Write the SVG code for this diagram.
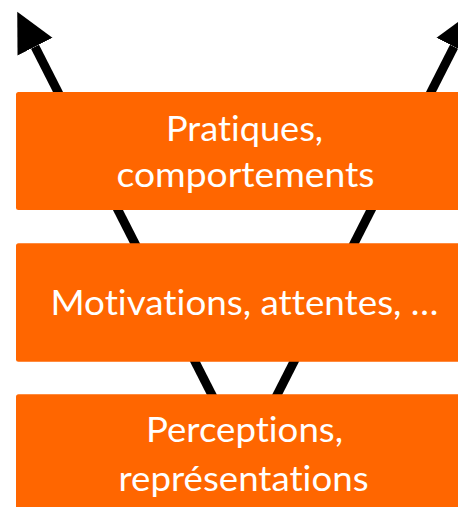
<svg xmlns="http://www.w3.org/2000/svg" width="458" height="507" viewBox="0 0 458 507">
  <style>
    .box { fill: #FF6600; }
    .lbl { fill: #FFFFFF; font-family: Lato, "Open Sans", "Liberation Sans", sans-serif; font-size: 35px; text-anchor: middle; font-variant-ligatures: none; font-feature-settings: "liga" 0, "clig" 0, "dlig" 0; }
    .conn { stroke: #000000; stroke-width: 9; fill: none; }
  </style>
  <defs>
    <marker id="arrow" markerUnits="userSpaceOnUse" viewBox="0 -20 40 40" refX="0" refY="0" markerWidth="40" markerHeight="40" orient="auto">
      <path d="M0,-19.6 L39.2,0 L0,19.6 Z" fill="#000000"/>
    </marker>
  </defs>
  <g id="connectors">
    <line class="conn" x1="244.5" y1="459" x2="35" y2="46.7" marker-end="url(#arrow)"/>
    <line class="conn" x1="244.5" y1="459" x2="454" y2="46.7" marker-end="url(#arrow)"/>
  </g>
  <g id="node-pratiques">
    <rect class="box" x="16" y="92" width="457" height="118" rx="2.5"/>
    <text class="lbl" x="244.5" y="140.7" textLength="157" lengthAdjust="spacingAndGlyphs">Pratiques,</text>
    <text class="lbl" x="245.5" y="187.3" textLength="258" lengthAdjust="spacingAndGlyphs">comportements</text>
  </g>
  <g id="node-motivations">
    <rect class="box" x="16" y="243.3" width="457" height="118.4" rx="2.5"/>
    <text class="lbl" x="244.5" y="315" textLength="388" lengthAdjust="spacingAndGlyphs">Motivations, attentes, …</text>
  </g>
  <g id="node-perceptions">
    <rect class="box" x="16" y="394.3" width="457" height="118.4" rx="2.5"/>
    <text class="lbl" x="244.5" y="442.3" textLength="197" lengthAdjust="spacingAndGlyphs">Perceptions,</text>
    <text class="lbl" x="243.5" y="490.7" textLength="250" lengthAdjust="spacingAndGlyphs">représentations</text>
  </g>
</svg>
